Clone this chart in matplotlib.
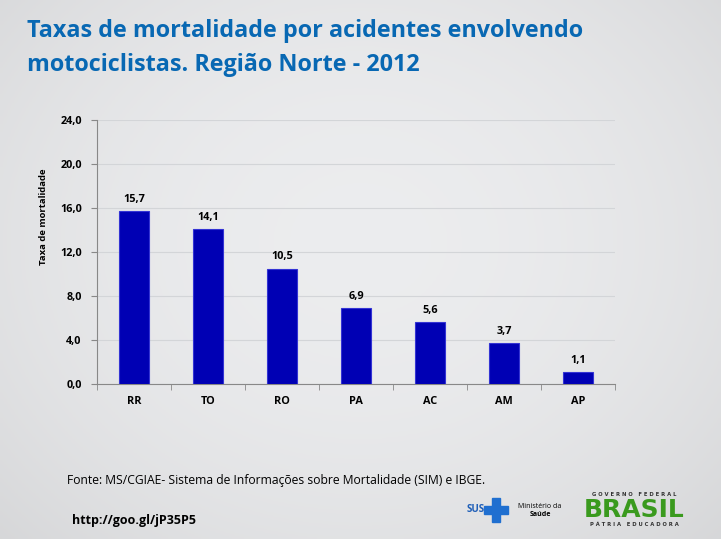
import numpy as np
import matplotlib.pyplot as plt
from matplotlib.patches import Rectangle

estados = ['RR', 'TO', 'RO', 'PA', 'AC', 'AM', 'AP']
taxas = [15.7, 14.1, 10.5, 6.9, 5.6, 3.7, 1.1]
y_ticks = [0, 4, 8, 12, 16, 20, 24]

titulo_1 = 'Taxas de mortalidade por acidentes envolvendo'
titulo_2 = 'motociclistas. Região Norte - 2012'
fonte = 'Fonte: MS/CGIAE- Sistema de Informações sobre Mortalidade (SIM) e IBGE.'
url = 'http://goo.gl/jP35P5'

W, H = 721, 539
fig = plt.figure(figsize=(W / 100, H / 100), dpi=100)

# gray gradient background
bg = fig.add_axes([0, 0, 1, 1], zorder=-10)
yy, xx = np.mgrid[0:1:200j, 0:1:200j]
r = np.sqrt(((xx - 0.5) / 0.8) ** 2 + ((yy - 0.55) / 0.9) ** 2)
shade = 0.925 - 0.11 * r ** 2
bg.imshow(np.dstack([shade, shade + 0.003, shade + 0.01]).clip(0, 1),
          extent=[0, 1, 0, 1], aspect='auto', origin='lower')
bg.axis('off')

for txt, base in [(titulo_1, 37), (titulo_2, 71)]:
    fig.text(27 / W, 1 - base / H, txt, fontsize=16.8, fontweight='bold',
             color='#0868b3', family='Open Sans', va='baseline')

ax = fig.add_axes([97 / W, 1 - 384 / H, 518 / W, 264 / H])
ax.set_facecolor('none')
x = np.arange(len(estados))
ax.bar(x, taxas, width=0.4, color='#0000b4', edgecolor='#3434d4', linewidth=0.8, zorder=3)
for xi, v in zip(x, taxas):
    ax.text(xi, v + 0.55, f'{v:.1f}'.replace('.', ','), ha='center', va='bottom',
            fontsize=7.8, fontweight='bold', family='Open Sans')

ax.set_xlim(-0.5, len(estados) - 0.5)
ax.set_ylim(0, 24)
ax.set_yticks(y_ticks)
ax.set_yticklabels([f'{t:.1f}'.replace('.', ',') for t in y_ticks],
                   fontsize=7.8, fontweight='bold', family='Open Sans')
ax.set_xticks(x)
ax.set_xticklabels(estados, fontsize=7.8, fontweight='bold', family='Open Sans')
ax.set_xticks(np.arange(-0.5, len(estados)), minor=True)
ax.tick_params(axis='x', which='major', length=0, pad=9)
ax.tick_params(axis='x', which='minor', length=4, color='#888888')
ax.tick_params(axis='y', length=4, color='#888888', pad=7)
ax.yaxis.grid(True, color='#d3d5d8', linewidth=0.8, zorder=0)
for s in ['top', 'right']:
    ax.spines[s].set_visible(False)
for s in ['left', 'bottom']:
    ax.spines[s].set_color('#888888')
ax.set_ylabel('Taxa de mortalidade', fontsize=6.8, fontweight='bold', family='Open Sans')
ax.yaxis.set_label_coords(-49 / 518, (384 - 217) / 264)

fig.text(67 / W, 1 - 484 / H, fonte, fontsize=8.7, family='Open Sans', va='baseline')
fig.text(72 / W, 1 - 524 / H, url, fontsize=9, fontweight='bold',
         family='Open Sans', va='baseline')

# logos (approximation)
fig.text(467 / W, 1 - 510 / H, 'SUS', fontsize=7, fontweight='bold', color='#1f5fb8',
         va='center', family='Open Sans')
fig.patches.append(Rectangle((484 / W, 1 - 514 / H), 24 / W, 8 / H,
                             transform=fig.transFigure, color='#1f6fd0'))
fig.patches.append(Rectangle((492 / W, 1 - 522 / H), 8 / W, 24 / H,
                             transform=fig.transFigure, color='#1f6fd0'))
fig.text(540 / W, 1 - 506 / H, 'Ministério da', fontsize=5, va='center', ha='center',
         family='Open Sans')
fig.text(540 / W, 1 - 514 / H, 'Saúde', fontsize=5, fontweight='bold', va='center',
         ha='center', family='Open Sans')
fig.text(634 / W, 1 - 495 / H, 'G O V E R N O   F E D E R A L', fontsize=3.8,
         fontweight='bold', ha='center', va='center', color='#333333')
fig.text(634 / W, 1 - 510 / H, 'BRASIL', fontsize=18, fontweight='heavy',
         ha='center', va='center', color='#3a9a1e', family='DejaVu Sans')
fig.text(634 / W, 1 - 525 / H, 'P Á T R I A   E D U C A D O R A', fontsize=3.8,
         fontweight='bold', ha='center', va='center', color='#333333')

fig.savefig('out.png', dpi=100)
